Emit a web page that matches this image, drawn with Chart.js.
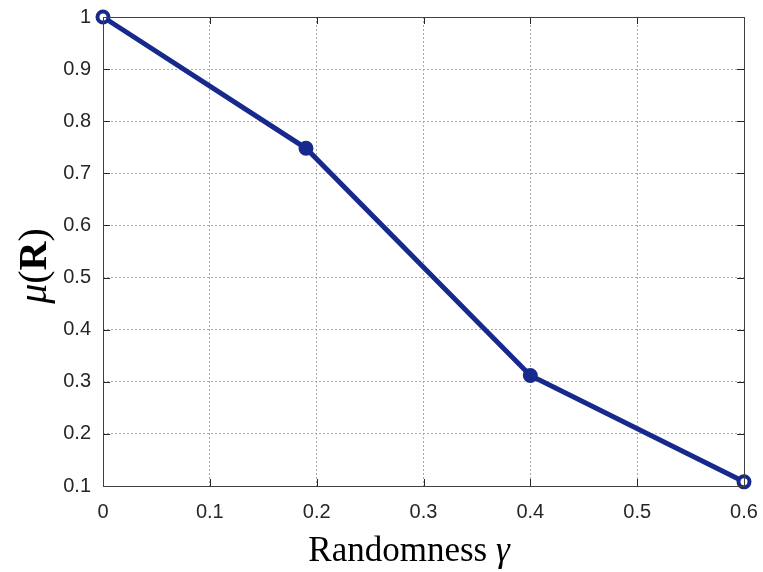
<!DOCTYPE html>
<html><head><meta charset="utf-8">
<script src="https://cdn.jsdelivr.net/npm/chart.js@4/dist/chart.umd.min.js"></script>
<style>html,body{margin:0;padding:0;background:#fff}#wrap{width:763px;height:572px}</style>
</head><body><div id="wrap"><canvas id="c" width="763" height="572"></canvas></div>
<script>
const randomness = [0, 0.19, 0.4, 0.6];
const muR = [1.0, 0.748, 0.312, 0.108];
const xTicks = [0, 0.1, 0.2, 0.3, 0.4, 0.5, 0.6];
const yTicks = [0.1, 0.2, 0.3, 0.4, 0.5, 0.6, 0.7, 0.8, 0.9, 1];
const lineColor = '#17298c';

const boxPlugin = {
  id: 'box',
  afterDraw(chart) {
    const ctx = chart.ctx, a = chart.chartArea;
    const xs = chart.scales.x, ys = chart.scales.y;
    ctx.save();
    ctx.strokeStyle = '#262626';
    ctx.lineWidth = 1;
    ctx.beginPath();
    const L = 7;
    xs.ticks.forEach(t => {
      const px = Math.round(xs.getPixelForValue(t.value)) + 0.5;
      ctx.moveTo(px, a.bottom); ctx.lineTo(px, a.bottom - L);
      ctx.moveTo(px, a.top); ctx.lineTo(px, a.top + L);
    });
    ys.ticks.forEach(t => {
      const py = Math.round(ys.getPixelForValue(t.value)) + 0.5;
      ctx.moveTo(a.left, py); ctx.lineTo(a.left + L, py);
      ctx.moveTo(a.right, py); ctx.lineTo(a.right - L, py);
    });
    ctx.stroke();
    ctx.strokeStyle = '#404040';
    ctx.strokeRect(Math.round(a.left) + 0.5, Math.round(a.top) + 0.5, Math.round(a.right - a.left), Math.round(a.bottom - a.top));
    ctx.restore();
  }
};

const titlePlugin = {
  id: 'titles',
  afterDraw(chart) {
    const ctx = chart.ctx;
    ctx.save();
    ctx.fillStyle = '#000';
    ctx.textBaseline = 'alphabetic';
    const parts = [
      {t: 'Randomness ', f: '35px "Liberation Serif", serif'},
      {t: 'γ', f: 'italic 35px "Liberation Serif", serif'}
    ];
    let w = 0;
    parts.forEach(p => { ctx.font = p.f; p.w = ctx.measureText(p.t).width; w += p.w; });
    let x = 409 - w / 2;
    parts.forEach(p => { ctx.font = p.f; ctx.fillText(p.t, x, 561); x += p.w; });
    const yparts = [
      {t: 'μ', f: 'italic 40px "Liberation Serif", serif'},
      {t: '(', f: '40px "Liberation Serif", serif'},
      {t: 'R', f: 'bold 40px "Liberation Serif", serif'},
      {t: ')', f: '40px "Liberation Serif", serif'}
    ];
    let yw = 0;
    yparts.forEach(p => { ctx.font = p.f; p.w = ctx.measureText(p.t).width; yw += p.w; });
    ctx.translate(46, 266);
    ctx.rotate(-Math.PI / 2);
    let yx = -yw / 2;
    yparts.forEach(p => { ctx.font = p.f; ctx.fillText(p.t, yx, 0); yx += p.w; });
    ctx.restore();
  }
};

function noPad(s) { s.paddingTop = 0; s.paddingBottom = 0; s.paddingLeft = 0; s.paddingRight = 0; }

new Chart(document.getElementById('c'), {
  type: 'line',
  data: {
    datasets: [{
      data: randomness.map((x, i) => ({x, y: muR[i]})),
      borderColor: lineColor,
      backgroundColor: lineColor,
      borderWidth: 5,
      pointRadius: 5.5,
      pointBorderWidth: 4,
      pointBorderColor: lineColor,
      pointBackgroundColor: randomness.map((x, i) => (i === 0 || i === randomness.length - 1) ? '#ffffff' : lineColor),
      tension: 0,
      clip: false
    }]
  },
  options: {
    responsive: false,
    animation: false,
    events: [],
    layout: { padding: { left: 0, right: 19, top: 17, bottom: 0 } },
    plugins: { legend: { display: false }, tooltip: { enabled: false } },
    scales: {
      x: {
        type: 'linear', min: 0, max: 0.6,
        afterBuildTicks(s) { s.ticks = xTicks.map(v => ({value: v})); },
        afterFit(s) { s.height = 86; noPad(s); },
        border: { display: false, dash: [2, 2] },
        grid: { color: '#aaaaaa', lineWidth: 1, drawTicks: false },
        ticks: { color: '#262626', padding: 14, font: { family: '"Liberation Sans", Arial, sans-serif', size: 20 },
          callback: v => String(v), maxRotation: 0 }
      },
      y: {
        type: 'linear', min: 0.1, max: 1,
        afterBuildTicks(s) { s.ticks = yTicks.map(v => ({value: v})); },
        afterFit(s) { s.width = 103; noPad(s); },
        border: { display: false, dash: [2, 2] },
        grid: { color: '#aaaaaa', lineWidth: 1, drawTicks: false },
        ticks: { color: '#262626', padding: 12, font: { family: '"Liberation Sans", Arial, sans-serif', size: 20 },
          callback: v => String(v) }
      }
    }
  },
  plugins: [boxPlugin, titlePlugin]
});
</script>
</body></html>
